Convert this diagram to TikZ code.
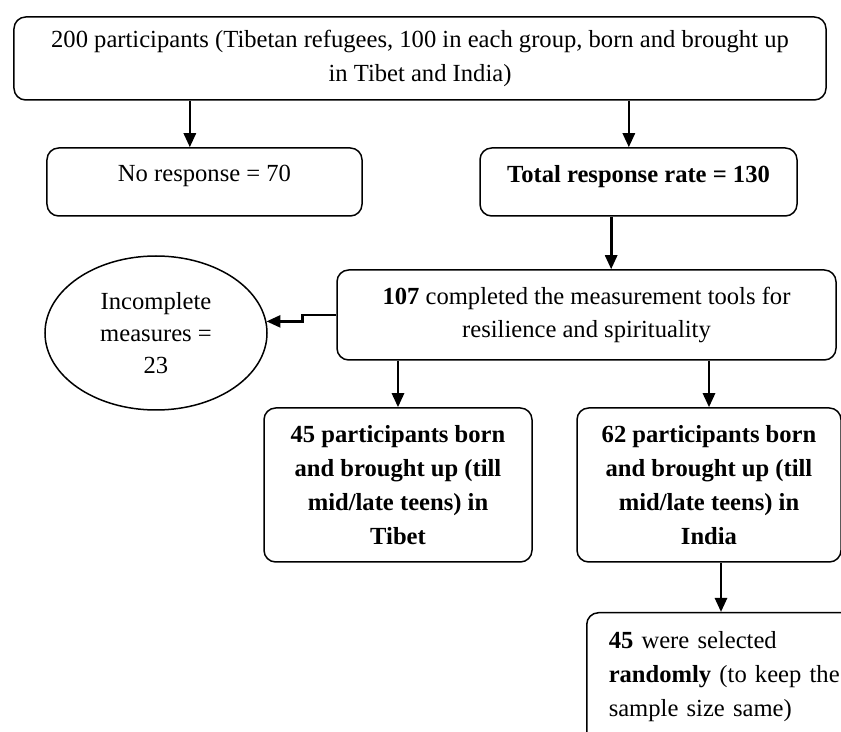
\documentclass[tikz,border=0pt]{standalone}
\usepackage{fontspec}
\setmainfont{Liberation Serif}
\usetikzlibrary{shapes.geometric,arrows.meta}
\begin{document}
\begin{tikzpicture}
		[x=0.3mm,y=-0.3mm,
		box/.style={rectangle,draw=black,fill=white,line width=0.45mm,rounded corners=3.5mm,align=center,inner sep=0pt,font=\fontsize{21}{29}\selectfont},
		oval/.style={ellipse,draw=black,fill=white,line width=0.45mm,align=center,inner sep=0pt,font=\fontsize{21}{27}\selectfont},
		arr/.style={line width=0.8mm,-{Triangle[length=4.2mm,width=3.6mm]}}
		]
		\useasboundingbox (0,0) rectangle (841,732);
		\node[box,minimum width=243.6mm,minimum height=24.9mm] (top) at (420,58.5){200 participants (Tibetan refugees, 100 in each group, born and brought up\\ in Tibet and India)};
		\node[box,minimum width=94.5mm,minimum height=20.4mm,text depth=5mm] (noresp) at (204.5,182){No response = 70};
		\node[box,minimum width=95.1mm,minimum height=20.4mm,text depth=5mm] (total) at (638.5,182){\textbf{Total response rate = 130}};
		\node[box,minimum width=149.7mm,minimum height=27mm] (comp) at (586.5,315){\textbf{107} completed the measurement tools for\\ resilience and spirituality};
		\node[oval,minimum width=66.6mm,minimum height=46.2mm] (incomp) at (156,333){Incomplete\\ measures =\\ 23};
		\node[box,minimum width=80.4mm,minimum height=46.2mm] (tibet) at (398,485){\textbf{45 participants born}\\ \textbf{and brought up (till}\\ \textbf{mid/late teens) in}\\ \textbf{Tibet}};
		\node[box,minimum width=79.2mm,minimum height=46.2mm] (india) at (709,485){\textbf{62 participants born}\\ \textbf{and brought up (till}\\ \textbf{mid/late teens) in}\\ \textbf{India}};
		\node[box,anchor=north west,align=left,text width=72mm,inner xsep=6.6mm,inner ysep=5.5mm] (rand) at (586,612){\textbf{45} were selected\\ \textbf{randomly} (to keep the\\ sample size same)\\ \mbox{}};

\coordinate (a1) at ([xshift=-4.4mm]noresp.north);
\coordinate (a2) at ([xshift=-2.9mm]total.north);
\coordinate (a3) at ([xshift=-8.2mm]total.south);
\coordinate (a6) at ([xshift=3.6mm]india.south);
\draw[arr] (top.south -| a1) -- (a1);
\draw[arr] (top.south -| a2) -- (a2);
\draw[arr] (a3) -- (a3 |- comp.north);
\draw[arr] (comp.south -| tibet.north) -- (tibet.north);
\draw[arr] (comp.south -| india.north) -- (india.north);
\draw[arr] (a6) -- (a6 |- rand.north);
\draw[arr] (comp.west) -- ++(-10.2mm,0) |- (incomp.6);
	\end{tikzpicture}
\end{document}
